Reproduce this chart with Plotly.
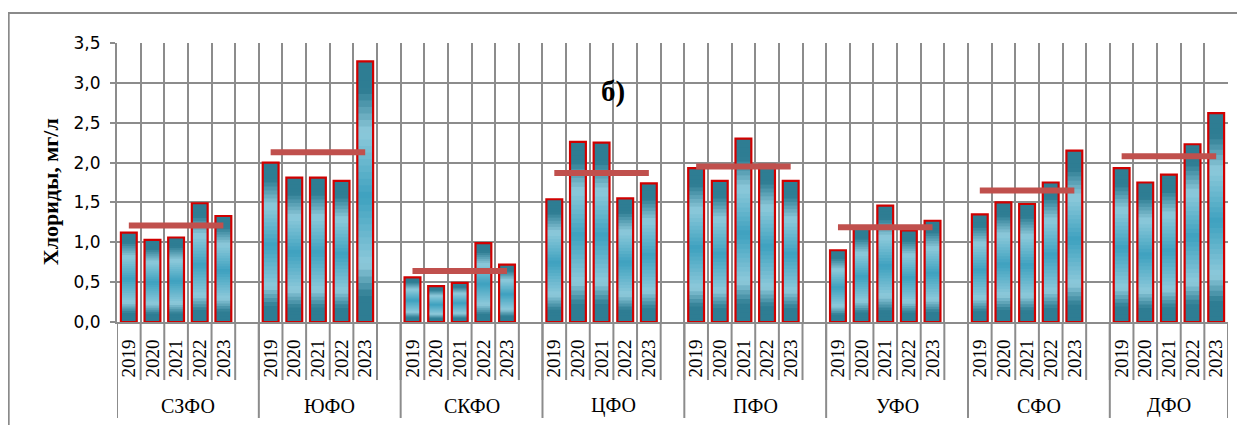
import plotly.graph_objects as go

# ---------------- data ----------------
groups = ["СЗФО", "ЮФО", "СКФО", "ЦФО", "ПФО", "УФО", "СФО", "ДФО"]
years = ["2019", "2020", "2021", "2022", "2023"]

szfo = [1.12, 1.03, 1.06, 1.49, 1.33]
yufo = [2.00, 1.81, 1.81, 1.77, 3.27]
skfo = [0.56, 0.45, 0.49, 0.99, 0.72]
cfo = [1.54, 2.26, 2.25, 1.55, 1.74]
pfo = [1.93, 1.77, 2.30, 1.97, 1.77]
ufo = [0.90, 1.18, 1.46, 1.15, 1.27]
sfo = [1.35, 1.50, 1.48, 1.75, 2.15]
dfo = [1.93, 1.75, 1.85, 2.23, 2.62]
values = [szfo, yufo, skfo, cfo, pfo, ufo, sfo, dfo]

# average over the period (red lines)
averages = [1.21, 2.13, 0.64, 1.87, 1.95, 1.19, 1.65, 2.08]

y_ticks = [0, 0.5, 1.0, 1.5, 2.0, 2.5, 3.0, 3.5]

# ---------------- categories ----------------
cats, ticktext = [], []
group_cats = []
for gi, g in enumerate(groups):
    gc = [f"{g} {y}" for y in years]
    group_cats.append(gc)
    cats += gc
    ticktext += years
    if gi < len(groups) - 1:
        cats.append(f"{g} gap")
        ticktext.append("")

bar_x = [c for gc in group_cats for c in gc]
bar_y = [v for vals in values for v in vals]

# ---------------- gradient fill for bars ----------------
DARK = (46, 125, 147)
LIGHT = (142, 202, 219)
MID = (62, 161, 191)
stops = [(0.00, DARK), (0.10, DARK), (0.22, LIGHT), (0.48, MID),
         (0.73, LIGHT), (0.89, DARK), (1.00, DARK)]


def color_at(f):
    for (f0, c0), (f1, c1) in zip(stops[:-1], stops[1:]):
        if f0 <= f <= f1:
            t = (f - f0) / (f1 - f0) if f1 > f0 else 0
            c = [round(a + (b - a) * t) for a, b in zip(c0, c1)]
            return f"rgb({c[0]},{c[1]},{c[2]})"
    return "rgb(%d,%d,%d)" % DARK


fig = go.Figure()
nseg = 40
for k in range(nseg):
    f0 = k / nseg
    fm = (k + 0.5) / nseg
    fig.add_trace(go.Bar(
        x=bar_x,
        base=[f0 * v for v in bar_y],
        y=[(1 - f0) * v for v in bar_y],
        marker=dict(color=color_at(fm), line=dict(width=0)),
        showlegend=False, hoverinfo="skip",
    ))

# outline
fig.add_trace(go.Bar(
    x=bar_x, y=bar_y,
    marker=dict(color="rgba(0,0,0,0)", line=dict(color="#d00000", width=2.2)),
    showlegend=False,
))

# average lines
for gc, avg in zip(group_cats, averages):
    fig.add_trace(go.Scatter(
        x=gc, y=[avg] * len(gc), mode="lines",
        line=dict(color="#c0504d", width=6),
        showlegend=False,
    ))

GRID = "#8c8c8c"
shapes = []
n = len(cats)
# tick separators below axis
for i in range(n + 1):
    shapes.append(dict(type="line", xref="x", yref="paper",
                       x0=i - 0.5, x1=i - 0.5, y0=0, y1=-0.208,
                       line=dict(color=GRID, width=2)))
# group separators
bounds = [-0.5]
spans = []
for gi, gc in enumerate(group_cats):
    start = cats.index(gc[0])
    last = cats.index(gc[-1]) + (1 if gi < len(groups) - 1 else 0)
    spans.append((start, last))
    bounds.append(last + 0.5)
for b in bounds:
    shapes.append(dict(type="line", xref="x", yref="paper",
                       x0=b, x1=b, y0=0, y1=-0.344,
                       line=dict(color=GRID, width=2)))
# outer border
shapes.append(dict(type="rect", xref="paper", yref="paper",
                   x0=-0.0975, x1=1.05, y0=-0.6, y1=1.1075,
                   line=dict(color="#8a8a8a", width=2), fillcolor="rgba(0,0,0,0)",
                   layer="below"))

annotations = []
for g, (start, last) in zip(groups, spans):
    annotations.append(dict(x=(start + last) / 2, y=-0.30, xref="x", yref="paper",
                            xanchor="center", yanchor="middle",
                            text=g, showarrow=False,
                            font=dict(family="Liberation Serif", size=20, color="black")))
annotations.append(dict(x=-0.0603, y=0.4655, xref="paper", yref="paper",
                        xanchor="center", yanchor="middle",
                        text="<b>Хлориды, мг/л</b>", textangle=-90, showarrow=False,
                        font=dict(family="Liberation Serif", size=22, color="black")))
annotations.append(dict(x=0.4464, y=0.827, xref="paper", yref="paper",
                        xanchor="center", yanchor="middle",
                        text="<b>б)</b>", showarrow=False,
                        font=dict(family="Liberation Serif", size=29, color="black")))

fig.update_layout(
    width=1237, height=417,
    margin=dict(l=109, r=17, t=35, b=103),
    paper_bgcolor="white", plot_bgcolor="white",
    barmode="overlay", bargap=0.33,
    separators=", ",
    shapes=shapes, annotations=annotations,
    xaxis=dict(
        type="category", categoryorder="array", categoryarray=cats,
        tickmode="array", tickvals=cats, ticktext=ticktext,
        range=[-0.5, n - 0.5], tickson="boundaries",
        showgrid=True, gridcolor=GRID, gridwidth=2,
        ticks="", tickangle=-90, ticklabelstandoff=8,
        tickfont=dict(family="Liberation Serif", size=19, color="black"),
        showline=True, linecolor=GRID, linewidth=2,
    ),
    yaxis=dict(
        range=[0, 3.5], tickmode="array", tickvals=y_ticks, tickformat=".1f",
        showgrid=True, gridcolor=GRID, gridwidth=2,
        ticks="outside", ticklen=5, tickwidth=2, tickcolor=GRID,
        showline=True, linecolor=GRID, linewidth=2, zeroline=False,
        tickfont=dict(family="DejaVu Sans", size=17, color="black"),
        ticklabelstandoff=6,
    ),
)

fig.write_html("out.html")
